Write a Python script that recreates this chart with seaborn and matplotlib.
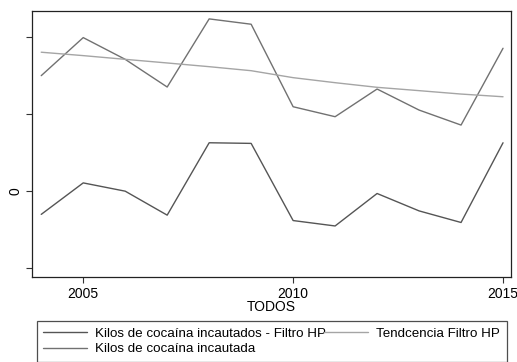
import matplotlib
matplotlib.use("Agg")
import matplotlib.pyplot as plt
import seaborn as sns
import pandas as pd

years = list(range(2004, 2016))
hp_cycle = [-0.30, 0.107, 0.0, -0.31, 0.626, 0.618, -0.38, -0.45, -0.03, -0.255, -0.405, 0.626]
incautada = [1.494, 1.986, 1.705, 1.347, 2.228, 2.159, 1.092, 0.963, 1.321, 1.049, 0.855, 1.848]
tendencia = [1.797, 1.753, 1.705, 1.658, 1.610, 1.558, 1.468, 1.403, 1.343, 1.300, 1.256, 1.221]

lbl_hp = "Kilos de cocaína incautados - Filtro HP"
lbl_inc = "Kilos de cocaína incautada"
lbl_tr = "Tendcencia Filtro HP"

sns.set_theme(style="white")
plt.rcParams['font.family'] = ['Liberation Sans', 'DejaVu Sans']
plt.rcParams['text.color'] = 'black'
plt.rcParams['axes.labelcolor'] = 'black'
plt.rcParams['xtick.color'] = '#333333'
plt.rcParams['ytick.color'] = '#333333'
plt.rcParams['xtick.labelcolor'] = 'black'
plt.rcParams['ytick.labelcolor'] = 'black'

df = pd.DataFrame({"year": years, "hp": hp_cycle, "inc": incautada, "tr": tendencia})

fig = plt.figure(figsize=(5.17, 3.62), dpi=100)
ax = fig.add_axes([0.0619, 0.2348, 0.9265, 0.7348])

sns.lineplot(data=df, x="year", y="hp", ax=ax, color="#555555", lw=1.0, label=lbl_hp)
sns.lineplot(data=df, x="year", y="inc", ax=ax, color="#717171", lw=1.0, label=lbl_inc)
sns.lineplot(data=df, x="year", y="tr", ax=ax, color="#a5a5a5", lw=1.0, label=lbl_tr)

ax.set_xlim(2003.78, 2015.19)
ax.set_ylim(-1.11, 2.33)
ax.set_xticks([2005, 2010, 2015])
ax.set_xticklabels(["2005", "2010", "2015"], fontsize=10)
ax.set_yticks([-1, 0, 1, 2])
ax.set_yticklabels(["", "0", "", ""], fontsize=10, rotation=90, va="center")
ax.tick_params(axis="x", which="both", direction="out", length=4, width=0.8,
               pad=3.5, bottom=True)
ax.tick_params(axis="y", which="both", direction="out", length=4, width=0.8,
               pad=2.5, left=True)
ax.set_xlabel("TODOS", fontsize=10, labelpad=-1)
ax.set_ylabel("")
for s in ax.spines.values():
    s.set_color("#222222")
    s.set_linewidth(0.9)

handles, labels = ax.get_legend_handles_labels()
ax.get_legend().remove()
leg = fig.legend(handles, labels, loc="upper left", bbox_to_anchor=(0.071, 0.014, 0.909, 0.1),
                 mode="expand", ncol=2, fontsize=9.6, frameon=True, fancybox=False,
                 edgecolor="#222222", borderaxespad=0, handlelength=3.3, handletextpad=0.6,
                 columnspacing=0.0, labelspacing=0.25, borderpad=0.5)
leg.get_frame().set_linewidth(0.9)

fig.savefig("out.png", dpi=100)
